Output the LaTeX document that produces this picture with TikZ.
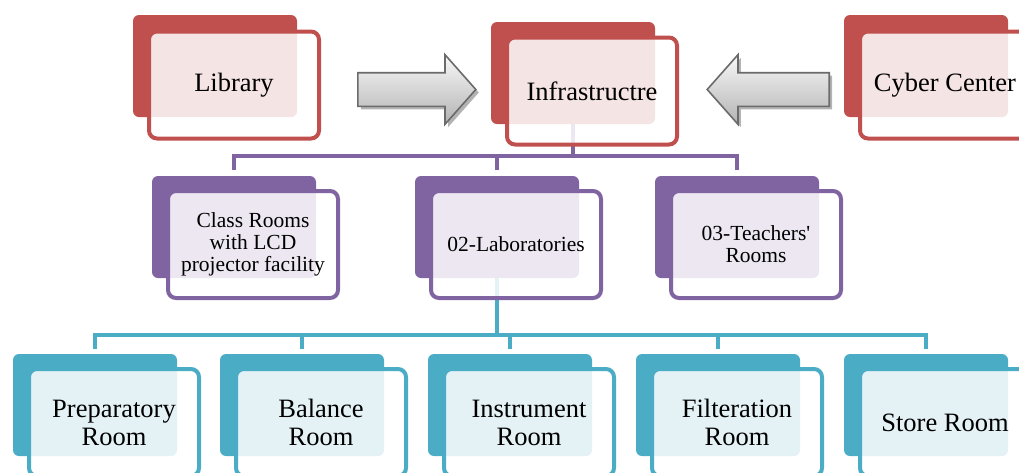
\documentclass[tikz,border=0pt]{standalone}
\usepackage{fontspec}
\setmainfont{Liberation Serif}
\usetikzlibrary{shapes.arrows,shadows}

\definecolor{boxred}{HTML}{C0504D}
\definecolor{boxpurple}{HTML}{8064A2}
\definecolor{boxteal}{HTML}{4BACC6}

\tikzset{
    backbox/.style={rectangle, rounded corners=3pt, fill=#1, minimum width=82pt, minimum height=51pt, inner sep=0pt},
    frontbox/.style={rectangle, rounded corners=4pt, draw=#1, line width=2pt, fill=white, fill opacity=0.85, text opacity=1, draw opacity=1,
        minimum width=85pt, minimum height=53.5pt, inner sep=0pt, align=center, font=\fontsize{13.25}{14}\selectfont},
    smalltext/.style={font=\fontsize{10.75}{10.9}\selectfont},
    busline/.style={draw=#1, line width=2.25pt},
    blockarrow/.style={single arrow, single arrow head extend=9pt, single arrow tip angle=97, minimum height=59pt, minimum width=34pt,
        inner xsep=0pt, inner ysep=8pt, draw=black!58, line width=0.8pt, top color=gray!5, bottom color=gray!60,
        drop shadow={shadow xshift=1.5pt, shadow yshift=-1.5pt, fill=black!50, opacity=0.6}}
}

\begin{document}
\begin{tikzpicture}[x=0.5pt, y=-0.5pt]

    \useasboundingbox (0,0) rectangle (1019,472);

    \coordinate (purplebus) at (0,156);
    \coordinate (tealbus) at (0,335);

    % connectors
    \node[backbox=boxred] (infraB) at (573,73) {};
    \node[backbox=boxpurple] (classB) at (234,227) {};
    \node[backbox=boxpurple] (labB) at (497,227) {};
    \node[backbox=boxpurple] (teachB) at (737,227) {};
    \node[backbox=boxteal] (prepB) at (95,405) {};
    \node[backbox=boxteal] (balB) at (302,405) {};
    \node[backbox=boxteal] (instB) at (510,405) {};
    \node[backbox=boxteal] (filtB) at (718,405) {};
    \node[backbox=boxteal] (storeB) at (926,405) {};

    \draw[busline=boxpurple] (infraB.south) -- (purplebus -| infraB);
    \draw[busline=boxpurple] ([yshift=3pt]classB.north) |- (purplebus -| infraB) -| ([yshift=3pt]teachB.north);
    \draw[busline=boxpurple] (purplebus -| labB) -- ([yshift=3pt]labB.north);

    \draw[busline=boxteal] (labB.south) -- (tealbus -| labB);
    \draw[busline=boxteal] ([yshift=2.5pt]prepB.north) |- (tealbus -| labB) -| ([yshift=2.5pt]storeB.north);
    \foreach \b in {balB, instB, filtB}
        \draw[busline=boxteal] (tealbus -| \b) -- ([yshift=2.5pt]\b.north);

    % top row
    \node[backbox=boxred] (libB) at (215,66) {};
    \node[frontbox=boxred] (lib) at (234,85) {Library};
    \node[frontbox=boxred] (infra) at (592,91) {Infrastructre};
    \node[backbox=boxred] (cyberB) at (926,66) {};
    \node[frontbox=boxred] (cyber) at (945,85) {Cyber Center};

    \node[blockarrow, anchor=tail] (libarrow) at (357,89.5) {};
    \node[blockarrow, anchor=tail, shape border rotate=180, minimum height=61pt] (cyberarrow) at (830,89.5) {};

    % middle row
    \node[frontbox=boxpurple, smalltext] (class) at (253,244.5) {Class Rooms\\with LCD\\projector facility};
    \node[frontbox=boxpurple, smalltext] (lab) at (516,244.5) {02-Laboratories};
    \node[frontbox=boxpurple, smalltext] (teach) at (756,244.5) {03-Teachers\textquotesingle\\Rooms};

    % bottom row
    \node[frontbox=boxteal] (prep) at (114,422.5) {Preparatory\\Room};
    \node[frontbox=boxteal] (bal) at (321,422.5) {Balance\\Room};
    \node[frontbox=boxteal] (inst) at (529,422.5) {Instrument\\Room};
    \node[frontbox=boxteal] (filt) at (737,422.5) {Filteration\\Room};
    \node[frontbox=boxteal] (store) at (945,422.5) {Store Room};

\end{tikzpicture}
\end{document}
